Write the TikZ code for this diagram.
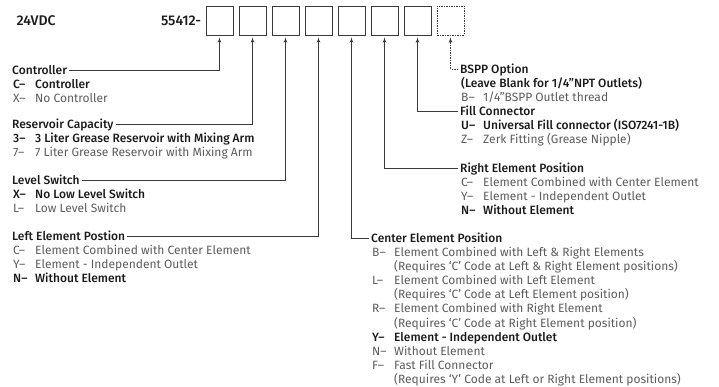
\documentclass[tikz,border=0pt]{standalone}
\usepackage{fontspec}
\setmainfont{Fira Sans}[BoldFont={Fira Sans Medium}]
\usetikzlibrary{arrows,positioning}
\definecolor{ink}{HTML}{1A1A1A}
\definecolor{mute}{HTML}{5C5C5C}
\definecolor{wire}{HTML}{3A3A3A}
\newcommand{\legendsize}{\fontsize{12}{14}\selectfont}
\newcommand{\codeon}[2]{\textcolor{ink}{\bfseries #1--} & \textcolor{ink}{\bfseries #2}\\}
\newcommand{\codeoff}[2]{#1-- & #2\\}
\newcommand{\codenote}[1]{& #1\\}
\tikzstyle{digit} = [draw=wire, rectangle, line width=0.8pt,
    minimum width=27pt, minimum height=29pt, inner sep=0pt]
\tikzstyle{blank} = [digit, dash pattern=on 1.5pt off 1pt]
\tikzstyle{part} = [font=\fontsize{14}{16}\selectfont\bfseries, text=ink]
\tikzstyle{title} = [font=\legendsize\bfseries, text=ink, anchor=west,
    inner sep=0pt, inner xsep=2pt, text height=8.2pt, text depth=0pt]
\tikzstyle{opts} = [font=\legendsize, text=mute, inner sep=0pt, anchor=base west]
\tikzstyle{link} = [draw=wire, line width=0.8pt, ->, shorten >=2pt]

\begin{document}
\begin{tikzpicture}[x=1pt, y=1pt, node distance=33pt, >=latex']
        \useasboundingbox (0,0) rectangle (719,-387);
        % the code boxes
        \node [digit] (d1) at (219.5,-20.5) {};
        \node [digit, right of=d1] (d2) {};
        \node [digit, right of=d2] (d3) {};
        \node [digit, right of=d3] (d4) {};
        \node [digit, right of=d4] (d5) {};
        \node [digit, right of=d5] (d6) {};
        \node [digit, right of=d6] (d7) {};
        \node [blank, right of=d7] (d8) {};
        \node [part, anchor=east] (serial) at ([xshift=-1pt]d1.west) {55412-};
        \node [part, anchor=west] (volt) at (13,-21) {24VDC};

        % left column
        \node [title] (ctl) at (10,-70) {Controller};
        \node [opts] (ctlopts) at ([xshift=3pt,yshift=-14pt]ctl.base west) {%
            \begin{tabular}[t]{@{}p{22pt}@{}l@{}}
            \codeon{C}{Controller}
            \codeoff{X}{No Controller}
            \end{tabular}};
        \node [title] (res) at (10,-124) {Reservoir Capacity};
        \node [opts] (resopts) at ([xshift=3pt,yshift=-14pt]res.base west) {%
            \begin{tabular}[t]{@{}p{22pt}@{}l@{}}
            \codeon{3}{3 Liter Grease Reservoir with Mixing Arm}
            \codeoff{7}{7 Liter Grease Reservoir with Mixing Arm}
            \end{tabular}};
        \node [title] (lvl) at (10,-180) {Level Switch};
        \node [opts] (lvlopts) at ([xshift=3pt,yshift=-14pt]lvl.base west) {%
            \begin{tabular}[t]{@{}p{22pt}@{}l@{}}
            \codeon{X}{No Low Level Switch}
            \codeoff{L}{Low Level Switch}
            \end{tabular}};
        \node [title] (lft) at (10,-236) {Left Element Postion};
        \node [opts] (lftopts) at ([xshift=3pt,yshift=-14pt]lft.base west) {%
            \begin{tabular}[t]{@{}p{22pt}@{}l@{}}
            \codeoff{C}{Element Combined with Center Element}
            \codeoff{Y}{Element - Independent Outlet}
            \codeon{N}{Without Element}
            \end{tabular}};

        % right column
        \node [title] (bspp) at (458,-69) {BSPP Option};
        \node [opts] (bsppopts) at ([xshift=3pt,yshift=-14pt]bspp.base west) {%
            \begin{tabular}[t]{@{}p{22pt}@{}l@{}}
            \multicolumn{2}{@{}l@{}}{\textcolor{ink}{\bfseries (Leave Blank for 1/4”NPT Outlets)}}\\
            \codeoff{B}{1/4”BSPP Outlet thread}
            \end{tabular}};
        \node [title] (fill) at (458,-111) {Fill Connector};
        \node [opts] (fillopts) at ([xshift=3pt,yshift=-14pt]fill.base west) {%
            \begin{tabular}[t]{@{}p{22pt}@{}l@{}}
            \codeon{U}{Universal Fill connector (ISO7241-1B)}
            \codeoff{Z}{Zerk Fitting (Grease Nipple)}
            \end{tabular}};
        \node [title] (rgt) at (458,-168) {Right Element Position};
        \node [opts] (rgtopts) at ([xshift=3pt,yshift=-14pt]rgt.base west) {%
            \begin{tabular}[t]{@{}p{22pt}@{}l@{}}
            \codeoff{C}{Element Combined with Center Element}
            \codeoff{Y}{Element - Independent Outlet}
            \codeon{N}{Without Element}
            \end{tabular}};
        \node [title] (ctr) at (369,-238) {Center Element Position};
        \node [opts] (ctropts) at ([xshift=3pt,yshift=-14pt]ctr.base west) {%
            \begin{tabular}[t]{@{}p{22pt}@{}l@{}}
            \codeoff{B}{Element Combined with Left \& Right Elements}
            \codenote{(Requires ‘C’ Code at Left \& Right Element positions)}
            \codeoff{L}{Element Combined with Left Element}
            \codenote{(Requires ‘C’ Code at Left Element position)}
            \codeoff{R}{Element Combined with Right Element}
            \codenote{(Requires ‘C’ Code at Right Element position)}
            \codeon{Y}{Element - Independent Outlet}
            \codeoff{N}{Without Element}
            \codeoff{F}{Fast Fill Connector}
            \codenote{(Requires ‘Y’ Code at Left or Right Element positions)}
            \end{tabular}};

        % leaders from each description up to its box
        \draw [link] (ctl.east) -| (d1.south);
        \draw [link] (res.east) -| (d2.south);
        \draw [link] (lvl.east) -| (d3.south);
        \draw [link] (lft.east) -| (d4.south);
        \draw [link] (ctr.west) -| (d5.south);
        \draw [link] (rgt.west) -| (d6.south);
        \draw [link] (fill.west) -| (d7.south);
        \draw [link, dash pattern=on 1.5pt off 1pt] (bspp.west) -| (d8.south);
\end{tikzpicture}
\end{document}
